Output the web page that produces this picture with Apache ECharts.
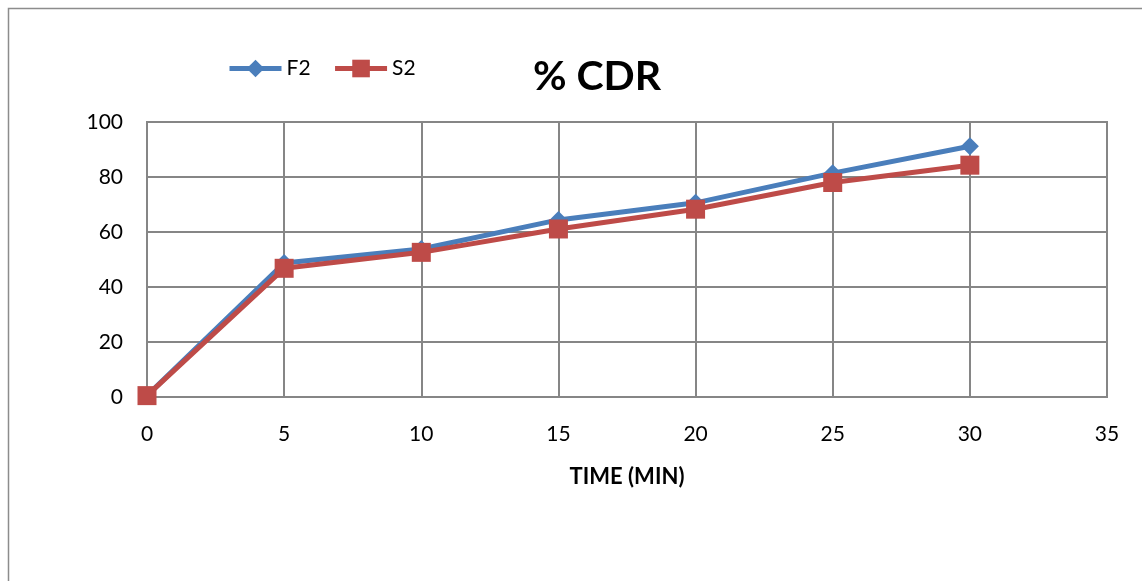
<!DOCTYPE html>
<html>
<head>
<meta charset="utf-8">
<script src="https://cdn.jsdelivr.net/npm/echarts@6/dist/echarts.min.js"></script>
<style>
  html, body { margin: 0; padding: 0; background: #fff; }
  #chart { width: 1142px; height: 581px; }
</style>
</head>
<body>
<div id="chart"></div>
<script>
// Time points (min) and cumulative drug release (%)
const timeMin = [0, 5, 10, 15, 20, 25, 30];
const f2Values = [0.5, 48.7, 53.8, 64.4, 70.6, 81.4, 91.2];
const s2Values = [0.5, 46.8, 52.6, 61.1, 68.3, 78.0, 84.3];
const seriesNames = ['F2', 'S2'];
const xTicks = { min: 0, max: 35, step: 5 };
const yTicks = { min: 0, max: 100, step: 20 };

const pairs = (xs, ys) => xs.map((x, i) => [x, ys[i]]);
const font = 'Lato, "Open Sans", "Liberation Sans", sans-serif';

const chart = echarts.init(document.getElementById('chart'), null, { renderer: 'canvas' });
chart.setOption({
  animation: false,
  backgroundColor: '#fff',
  title: {
    text: '% CDR',
    left: 592, top: 51,
    textAlign: 'center',
    textStyle: { fontFamily: font, fontSize: 41, fontWeight: 'bold', color: '#000' }
  },
  legend: {
    left: 222, top: 53,
    itemWidth: 52, itemHeight: 22, itemGap: 22,
    lineStyle: { width: 5 },
    textStyle: { fontFamily: font, fontSize: 21, color: '#000' },
    data: seriesNames
  },
  graphic: [{
    type: 'rect',
    shape: { x: 8.5, y: 8.5, width: 1160, height: 600 },
    style: { fill: 'none', stroke: '#8c8c8c', lineWidth: 1.5 },
    silent: true, z: -1
  }],
  grid: { left: 147, right: 35, top: 122, bottom: 184, show: true, borderColor: '#868686', borderWidth: 2 },
  xAxis: {
    type: 'value', min: xTicks.min, max: xTicks.max, interval: xTicks.step,
    name: 'TIME (MIN)', nameLocation: 'middle', nameGap: 69,
    nameTextStyle: { fontFamily: font, fontSize: 22, fontWeight: 'bold', color: '#000' },
    axisLine: { show: false },
    axisTick: { show: false },
    axisLabel: { fontFamily: font, fontSize: 21, color: '#000', margin: 27 },
    splitLine: { show: true, lineStyle: { color: '#868686', width: 2 } }
  },
  yAxis: {
    type: 'value', min: yTicks.min, max: yTicks.max, interval: yTicks.step,
    axisLine: { show: false },
    axisTick: { show: false },
    axisLabel: { fontFamily: font, fontSize: 21, color: '#000', margin: 24 },
    splitLine: { show: true, lineStyle: { color: '#868686', width: 2 } }
  },
  series: [
    {
      name: seriesNames[0], type: 'line', data: pairs(timeMin, f2Values),
      symbol: 'diamond', symbolSize: 18,
      lineStyle: { color: '#4a7ebb', width: 5 },
      itemStyle: { color: '#4a7ebb' },
      z: 2
    },
    {
      name: seriesNames[1], type: 'line', data: pairs(timeMin, s2Values),
      symbol: 'rect', symbolSize: 19,
      lineStyle: { color: '#be4b48', width: 5 },
      itemStyle: { color: '#be4b48' },
      z: 3
    }
  ]
});
</script>
</body>
</html>
